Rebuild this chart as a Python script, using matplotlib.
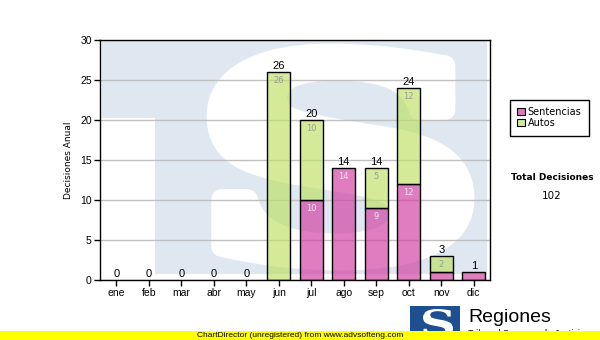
import matplotlib
matplotlib.use("Agg")
import matplotlib.pyplot as plt
from matplotlib.patches import Rectangle, PathPatch, Patch
from matplotlib.textpath import TextPath
from matplotlib.font_manager import FontProperties
from matplotlib.transforms import Affine2D
import numpy as np

# ---- data ----
months = ["ene", "feb", "mar", "abr", "may", "jun", "jul", "ago", "sep", "oct", "nov", "dic"]
sentencias = [0, 0, 0, 0, 0, 0, 10, 14, 9, 12, 1, 1]
autos = [0, 0, 0, 0, 0, 26, 10, 0, 5, 12, 2, 0]
series_names = ["Sentencias", "Autos"]
y_ticks = [0, 5, 10, 15, 20, 25, 30]
totals = [s + a for s, a in zip(sentencias, autos)]
total_decisiones = sum(totals)

W, H = 600, 340
fig = plt.figure(figsize=(W / 100, H / 100), dpi=100)
fig.patch.set_facecolor("white")


def fx(x):
    return x / W


def fy(y):
    return 1 - y / H


# pixel (top-left origin) -> display transform
pix = Affine2D().scale(1 / W, -1 / H).translate(0, 1) + fig.transFigure

ax = fig.add_axes([fx(100), fy(280), 390 / W, 240 / H])
ax.set_facecolor("white")

# ---- watermark (background image of the chart) ----
wm_blue = "#dfe8f1"
bg = Rectangle((102, 40), 385, 234, transform=pix, facecolor=wm_blue, edgecolor="none", zorder=0.2)
ax.add_patch(bg)
cut = Rectangle((100, 118), 55, 160, transform=pix, facecolor="white", edgecolor="none", zorder=0.25)
ax.add_patch(cut)
tp = TextPath((0, 0), "S", size=100, prop=FontProperties(family="DejaVu Serif", weight="bold"))
ext = tp.get_extents()
tr = Affine2D().translate(-ext.x0, -ext.y1).scale(247 / ext.width, -206 / ext.height).translate(217, 54) + pix
ax.add_patch(PathPatch(tp, transform=tr, facecolor="white", edgecolor="white", linewidth=15,
                       joinstyle="round", zorder=0.3))
# keep the blue band below the S bottom
ax.add_patch(Rectangle((102, 274), 390, 10, transform=pix, facecolor="white", edgecolor="none", zorder=0.35))

# ---- bars ----
x = np.arange(len(months))
pink = (0.815, 0.215, 0.62, 0.65)
green = (0.74, 0.88, 0.385, 0.65)
bw = 0.72
s_idx = [i for i in x if sentencias[i] > 0]
a_idx = [i for i in x if autos[i] > 0]
ax.bar(s_idx, [sentencias[i] for i in s_idx], width=bw, facecolor=pink, edgecolor="black",
       linewidth=1, zorder=3)
ax.bar(a_idx, [autos[i] for i in a_idx], bottom=[sentencias[i] for i in a_idx], width=bw,
       facecolor=green, edgecolor="black", linewidth=1, zorder=3)

# inner labels
for i in x:
    if sentencias[i] >= 2:
        ax.annotate(str(sentencias[i]), (i, sentencias[i]), xytext=(0, -3), textcoords="offset points",
                    ha="center", va="top", fontsize=6, color="#f4e4f0", family="DejaVu Sans", zorder=5)
    if autos[i] >= 2:
        ax.annotate(str(autos[i]), (i, totals[i]), xytext=(0, -3), textcoords="offset points",
                    ha="center", va="top", fontsize=6, color="#9a9a9a", family="DejaVu Sans", zorder=5)
    ax.annotate(str(totals[i]), (i, totals[i]), xytext=(0, 0.5), textcoords="offset points",
                ha="center", va="bottom", fontsize=8, color="black", family="Liberation Sans", zorder=5)

# ---- axes ----
ax.set_xlim(-0.5, len(months) - 0.5)
ax.set_ylim(0, 30)
ax.set_xticks(x)
ax.set_xticklabels(months, family="Liberation Sans", fontsize=7.5)
ax.set_yticks(y_ticks)
ax.set_yticklabels([str(v) for v in y_ticks], family="Liberation Sans", fontsize=7.5)
ax.tick_params(direction="out", length=4, width=1, color="black", pad=2)
ax.yaxis.grid(True, color="#c0c0c0", linewidth=1, zorder=1)
ax.set_axisbelow(False)
for gl in ax.get_ygridlines():
    gl.set_zorder(1)
for sp in ax.spines.values():
    sp.set_color("black")
    sp.set_linewidth(1)
    sp.set_zorder(6)
ax.set_ylabel("Decisiones Anual", family="DejaVu Sans", fontsize=6.5)
ax.yaxis.set_label_coords((73 - 100) / 390, 0.5)

# ---- legend ----
handles = [Patch(facecolor="#dd77bb", edgecolor="black", linewidth=0.8),
           Patch(facecolor="#d4ea9a", edgecolor="black", linewidth=0.8)]
leg = fig.legend(handles, series_names, loc="upper left", bbox_to_anchor=(fx(510), fy(100)),
                 fancybox=False, edgecolor="black", framealpha=1,
                 prop={"family": "DejaVu Sans", "size": 7},
                 handlelength=0.75, handleheight=0.75, handletextpad=0.3, labelspacing=0.1,
                 borderpad=0.75, borderaxespad=0)
leg.get_frame().set_linewidth(1)

fig.text(fx(552), fy(178), "Total Decisiones", ha="center", va="center", fontsize=6.5,
         fontweight="bold", family="DejaVu Sans")
fig.text(fx(552), fy(196), str(total_decisiones), ha="center", va="center", fontsize=7.5,
         family="DejaVu Sans")

# ---- logo ----
logo = Rectangle((410, 306), 50, 34, transform=pix, facecolor="#1d4f91", edgecolor="none", zorder=2)
fig.add_artist(logo)
tp2 = TextPath((0, 0), "S", size=100, prop=FontProperties(family="DejaVu Serif", weight="bold"))
e2 = tp2.get_extents()
tr2 = Affine2D().translate(-e2.x0, -e2.y1).scale(30 / e2.width, -28 / e2.height).translate(423, 309) + pix
fig.add_artist(PathPatch(tp2, transform=tr2, facecolor="white", edgecolor="none", zorder=3))
fig.text(fx(468), fy(322), "Regiones", ha="left", va="baseline", fontsize=14, family="Liberation Sans",
         zorder=3)
fig.text(fx(468), fy(329), "Tribunal Supremo de Justicia", ha="left", va="top", fontsize=6.5,
         family="Liberation Sans", zorder=3)

# ---- banner ----
banner = Rectangle((0, 331), 600, 9, transform=pix, facecolor="#ffff00", edgecolor="none", zorder=10)
fig.add_artist(banner)
fig.text(fx(300), fy(335.5), "ChartDirector (unregistered) from www.advsofteng.com", ha="center",
         va="center", fontsize=6, family="Liberation Sans", zorder=11)

fig.savefig("out.png", dpi=100)
